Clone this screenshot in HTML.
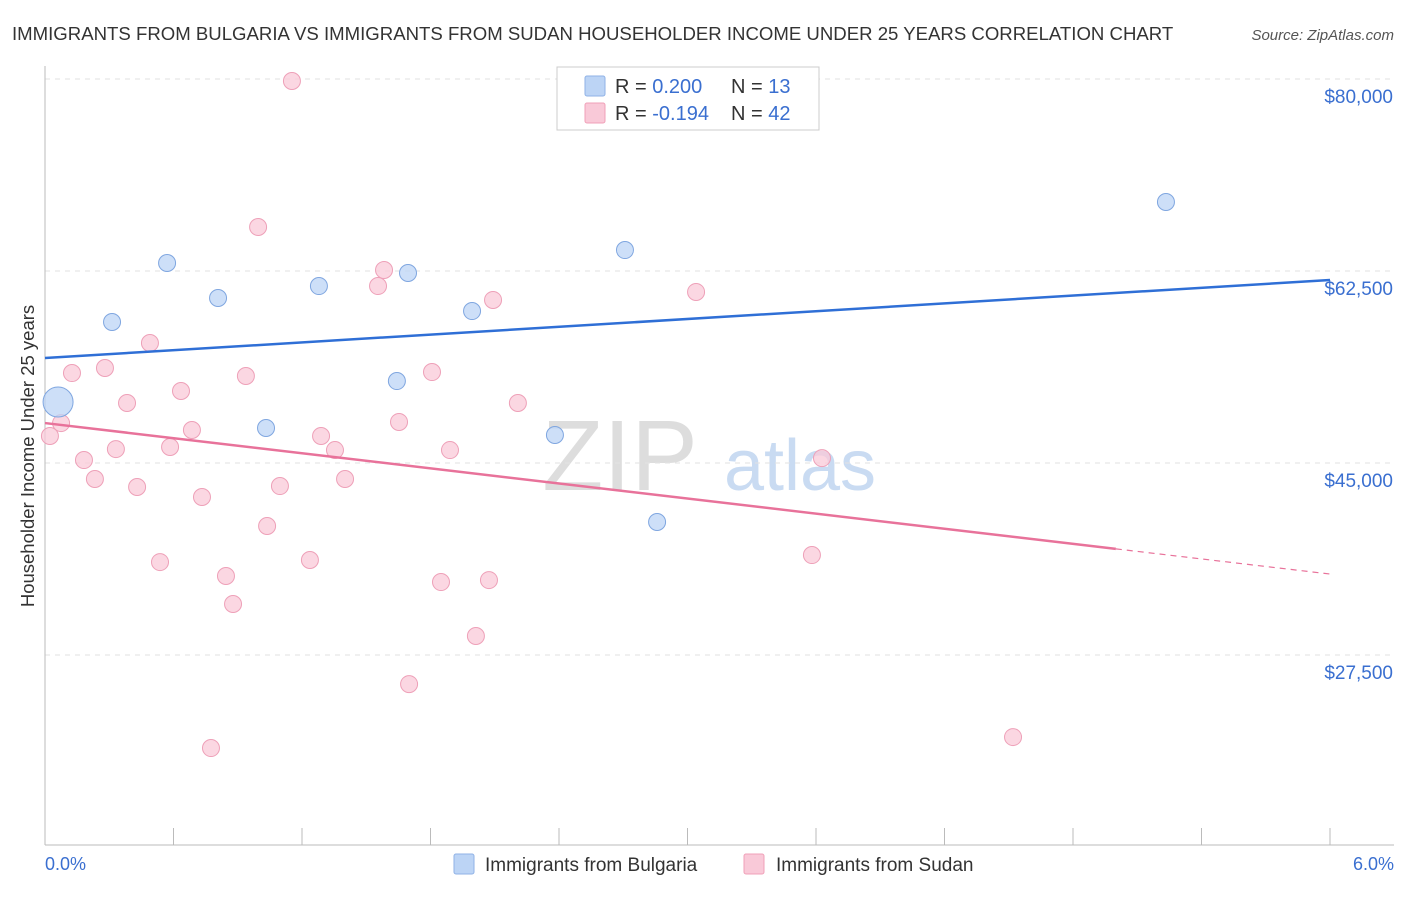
<!DOCTYPE html>
<html><head><meta charset="utf-8"><style>
body{margin:0;background:#fff;font-family:"Liberation Sans",sans-serif;}
svg text{font-family:"Liberation Sans",sans-serif;}
</style></head><body>
<svg id="c" width="1406" height="892" xmlns="http://www.w3.org/2000/svg">
<text x="12" y="40" font-size="18.6" fill="#333">IMMIGRANTS FROM BULGARIA VS IMMIGRANTS FROM SUDAN HOUSEHOLDER INCOME UNDER 25 YEARS CORRELATION CHART</text>
<text x="1394" y="40" font-size="15" fill="#555" font-style="italic" text-anchor="end">Source: ZipAtlas.com</text>
<text x="620" y="490" font-size="100" fill="#ddd" font-family="Liberation Serif" text-anchor="middle">ZIP</text>
<text x="800" y="490" font-size="72" fill="#c9dbf2" text-anchor="middle">atlas</text>
<g id="grid"></g><g id="marks"></g>
<text transform="translate(34,456) rotate(-90)" font-size="18.5" fill="#333" text-anchor="middle">Householder Income Under 25 years</text>
<g>
<rect x="557" y="67" width="262" height="63" fill="#fff" stroke="#ccc"/>
<rect x="585" y="76" width="20" height="20" fill="#bcd4f5" stroke="#8fb2e6" rx="2"/>
<rect x="585" y="103" width="20" height="20" fill="#f9c9d8" stroke="#f0a0b8" rx="2"/>
<text x="615" y="93" font-size="20" fill="#333">R = <tspan fill="#3a6fd0">0.200</tspan></text>
<text x="731" y="93" font-size="20" fill="#333">N = <tspan fill="#3a6fd0"> 13</tspan></text>
<text x="615" y="120" font-size="20" fill="#333">R = <tspan fill="#3a6fd0">-0.194</tspan></text>
<text x="731" y="120" font-size="20" fill="#333">N = <tspan fill="#3a6fd0">42</tspan></text>
</g>
<g>
<rect x="454" y="854" width="20" height="20" fill="#bcd4f5" stroke="#8fb2e6" rx="2"/>
<text x="485" y="871" font-size="19" fill="#333">Immigrants from Bulgaria</text>
<rect x="744" y="854" width="20" height="20" fill="#f9c9d8" stroke="#f0a0b8" rx="2"/>
<text x="776" y="871" font-size="19" fill="#333">Immigrants from Sudan</text>
</g>
<text x="45" y="870" font-size="18" fill="#3a6fd0">0.0%</text>
<text x="1394" y="870" font-size="18" fill="#3a6fd0" text-anchor="end">6.0%</text>
</svg>
<script>
const yTicks=[80000,62500,45000,27500];
const yTickLabels=["$80,000","$62,500","$45,000","$27,500"];
const blueX=[0.061,0.313,0.570,0.808,1.032,1.279,1.643,1.695,1.994,2.381,2.708,2.858,5.234];
const blueY=[50.56,57.85,63.23,60.04,48.19,61.13,52.47,62.32,58.85,47.55,64.41,39.62,68.79];
const blueR=[15,8.5,8.5,8.5,8.5,8.5,8.5,8.5,8.5,8.5,8.5,8.5,8.5];
const pinkX=[0.023,0.075,0.126,0.182,0.233,0.280,0.331,0.383,0.430,0.490,0.537,0.584,0.635,0.686,0.733,0.775,0.845,0.878,0.938,0.995,1.037,1.097,1.153,1.237,1.289,1.354,1.401,1.555,1.583,1.653,1.700,1.807,1.849,1.891,2.012,2.073,2.092,2.208,3.040,3.581,3.628,4.520];
const pinkY=[47.46,48.64,53.20,45.27,43.54,53.66,46.27,50.47,42.81,55.94,35.97,46.46,51.56,48.01,41.90,19.02,34.70,32.15,52.93,66.51,39.26,42.90,79.82,36.16,47.46,46.18,43.54,61.13,62.59,48.74,24.85,53.29,34.15,46.18,29.23,34.33,59.86,50.47,60.59,36.61,45.45,20.02];
const blueTrend=[54.57,61.68];
const pinkTrend=[48.64,34.88];
const pinkSolidEnd=5.0;
const X=v=>45+v/6*1285;
const Y=v=>79+(80-v)/17.5*192;
const NS="http://www.w3.org/2000/svg";
const grid=document.getElementById('grid'),marks=document.getElementById('marks');
function mk(tag,attrs,parent){const e=document.createElementNS(NS,tag);for(const k in attrs)e.setAttribute(k,attrs[k]);parent.appendChild(e);return e;}
yTicks.forEach((t,i)=>{const y=Y(t/1000);
const l=mk('line',{x1:45,x2:1394,y1:y,y2:y,stroke:'#e2e2e2','stroke-dasharray':'5,5'},grid);


const tx=mk('text',{x:1393,y:y+24,'font-size':19,fill:'#3a6fd0','text-anchor':'end'},grid);tx.textContent=yTickLabels[i];

});
const ax=mk('line',{x1:45,x2:1394,y1:845,y2:845,stroke:'#bbb'},grid);


const ay=mk('line',{x1:45,x2:45,y1:66,y2:845,stroke:'#bbb'},grid);


for(let i=0;i<=10;i++){const x=X(i*0.6);const t=mk('line',{x1:x,x2:x,y1:828,y2:845,stroke:'#bbb'},grid);

}
pinkX.forEach((v,i)=>{const c=mk('circle',{cx:X(v),cy:Y(pinkY[i]),r:8.5,fill:'#f9c9d8','fill-opacity':0.75,stroke:'#eea0b8','stroke-width':1},marks);

});
blueX.forEach((v,i)=>{const c=mk('circle',{cx:X(v),cy:Y(blueY[i]),r:blueR[i],fill:'#bcd4f5','fill-opacity':0.75,stroke:'#7fa6e0','stroke-width':1},marks);

});
const bl=mk('line',{x1:X(0),y1:Y(blueTrend[0]),x2:X(6),y2:Y(blueTrend[1]),stroke:'#2f6fd6','stroke-width':2.5},marks);


const pe=pinkTrend[0]+(pinkTrend[1]-pinkTrend[0])*pinkSolidEnd/6;
const pl=mk('line',{x1:X(0),y1:Y(pinkTrend[0]),x2:X(pinkSolidEnd),y2:Y(pe),stroke:'#e8729a','stroke-width':2.5},marks);


const pd=mk('line',{x1:X(pinkSolidEnd),y1:Y(pe),x2:X(6),y2:Y(pinkTrend[1]),stroke:'#e8729a','stroke-width':1.2,'stroke-dasharray':'6,5'},marks);


</script>
</body></html>
